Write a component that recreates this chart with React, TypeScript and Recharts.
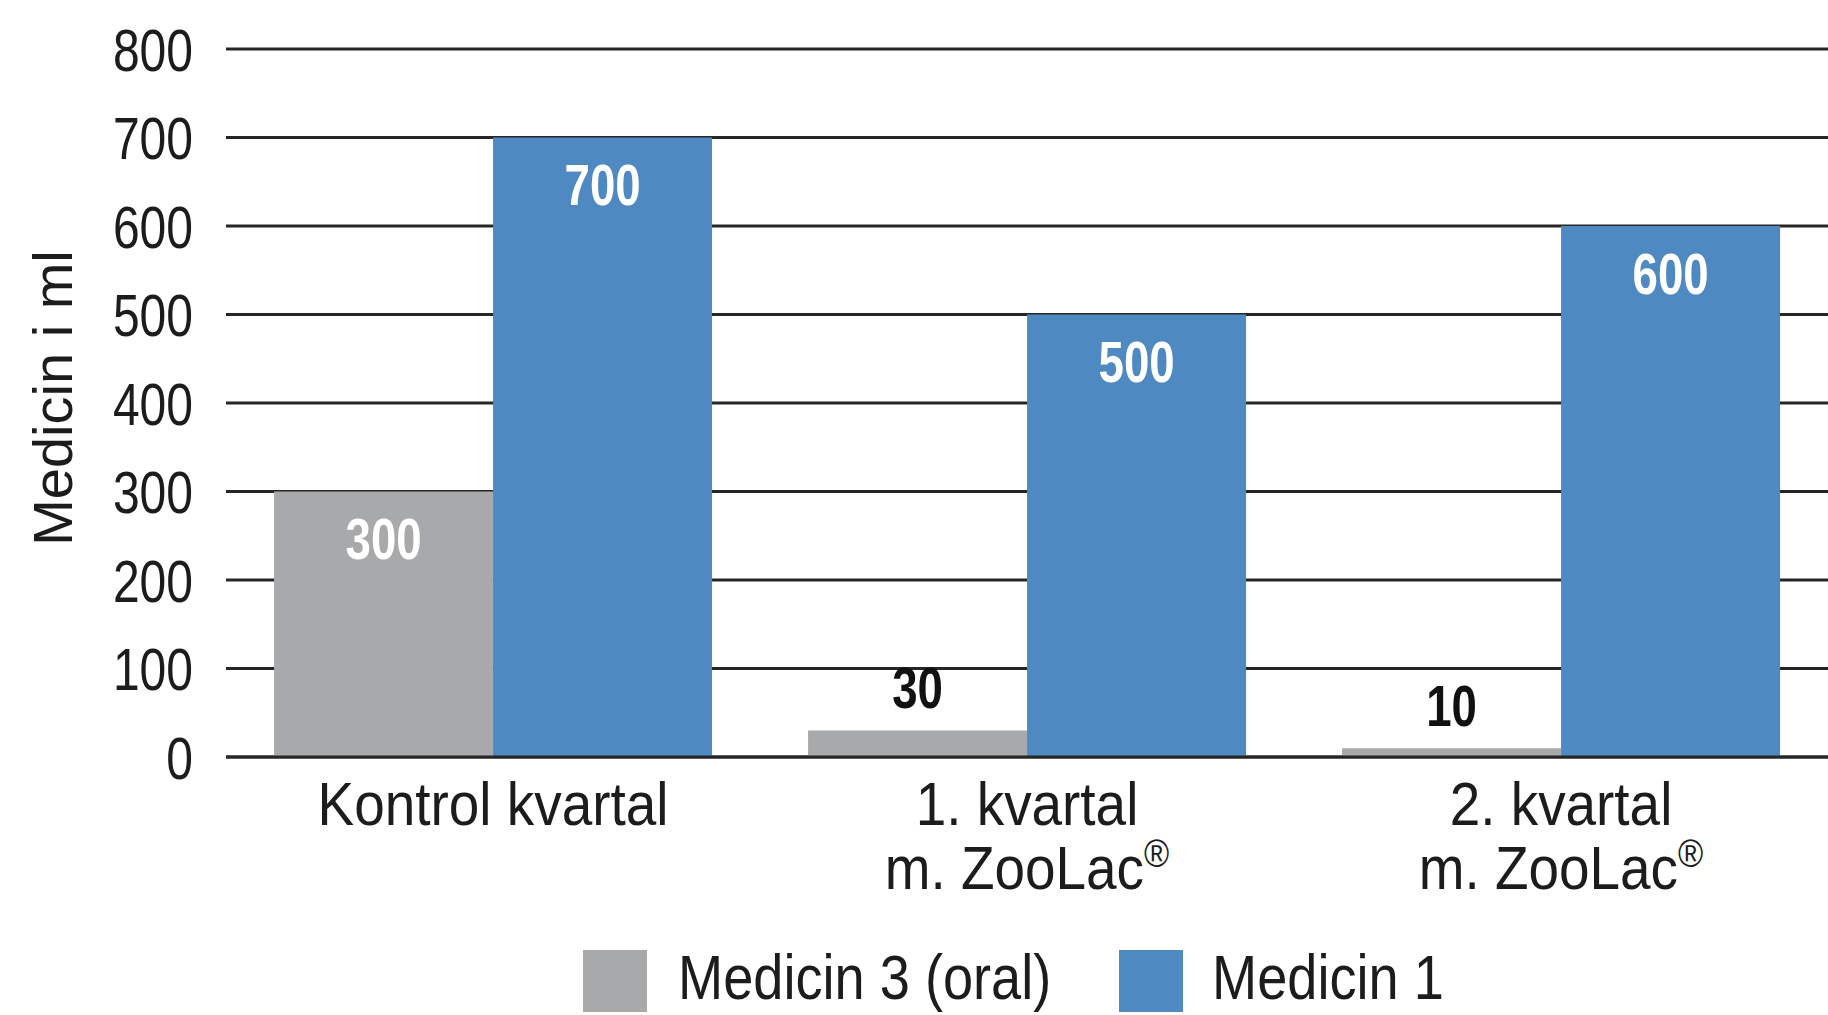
import React from 'react';
import { BarChart, Bar, XAxis, YAxis, CartesianGrid, Legend, LabelList } from 'recharts';

const categories = ['Kontrol kvartal', '1. kvartal\nm. ZooLac®', '2. kvartal\nm. ZooLac®'];
const medicin3 = [300, 30, 10];
const medicin1 = [700, 500, 600];
const yTicks = [0, 100, 200, 300, 400, 500, 600, 700, 800];
const seriesNames = ['Medicin 3 (oral)', 'Medicin 1'];
const yLabel = 'Medicin i ml';

const GRAY = '#a8a9ab';
const BLUE = '#4f89c2';
const TEXT = '#1c1c1c';
const FONT = '"Liberation Sans", Arial, sans-serif';

const data = categories.map((c, i) => ({ name: c, m3: medicin3[i], m1: medicin1[i] }));

const YTick = (props: any) => {
  const { x, y, payload } = props;
  return (
    <text transform={`translate(${x},${y}) scale(0.8,1)`} x={0} y={0} dy="0.36em"
      textAnchor="end" fill={TEXT} style={{ fontFamily: FONT, fontSize: 60 }}>
      {payload.value}
    </text>
  );
};

const XTick = (props: any) => {
  const { x, y, payload } = props;
  const lines: string[] = String(payload.value).split('\n');
  return (
    <g>
      {lines.map((ln, i) => {
        const parts = ln.split('®');
        return (
          <text key={i} transform={`translate(${x},${y + 68 + i * 64}) scale(0.9,1)`} x={0} y={0}
            textAnchor="middle" fill={TEXT} style={{ fontFamily: FONT, fontSize: 61 }}>
            {parts[0]}
            {parts.length > 1 ? (
              <tspan fontSize={38} dy={-22}>®</tspan>
            ) : null}
          </text>
        );
      })}
    </g>
  );
};

const renderValueLabel = (props: any) => {
  const { x, y, width, value } = props;
  const inside = value >= 100;
  const cx = x + width / 2;
  const cy = inside ? y + 48 : y - 42;
  return (
    <text transform={`translate(${cx},${cy}) scale(0.8,1)`} x={0} y={0} textAnchor="middle"
      dominantBaseline="central" fill={inside ? '#ffffff' : '#111111'}
      style={{ fontFamily: FONT, fontSize: 57, fontWeight: 700 }}>
      {value}
    </text>
  );
};

const LegendContent = () => (
  <svg width={900} height={75} style={{ display: 'block' }}>
    <rect x={0} y={10} width={64} height={62} fill={GRAY} />
    <text transform="translate(95,59) scale(0.86,1)" x={0} y={0} fill={TEXT}
      style={{ fontFamily: FONT, fontSize: 63 }}>{seriesNames[0]}</text>
    <rect x={536} y={10} width={64} height={62} fill={BLUE} />
    <text transform="translate(629,59) scale(0.86,1)" x={0} y={0} fill={TEXT}
      style={{ fontFamily: FONT, fontSize: 63 }}>{seriesNames[1]}</text>
  </svg>
);

export default function App() {
  return (
    <div style={{ position: 'absolute', left: 0, top: 0, width: 1828, height: 1015, background: '#ffffff' }}>
      <BarChart width={1828} height={1015} data={data}
        margin={{ top: 49, right: 0, bottom: 0, left: 0 }}
        barCategoryGap="9%" barGap={0}>
        <CartesianGrid horizontal vertical={false} stroke="#262626" strokeWidth={3} />
        <YAxis type="number" domain={[0, 800]} ticks={yTicks} width={226}
          axisLine={false} tickLine={false} tickSize={0} tickMargin={33}
          tick={<YTick />}
          label={{
            value: yLabel,
            content: () => (
              <text transform="translate(72,398) rotate(-90)" textAnchor="middle" fill={TEXT}
                style={{ fontFamily: FONT, fontSize: 56 }}>
                {yLabel}
              </text>
            ),
          }} />
        <Bar dataKey="m3" name={seriesNames[0]} fill={GRAY} isAnimationActive={false}>
          <LabelList dataKey="m3" content={renderValueLabel} />
        </Bar>
        <Bar dataKey="m1" name={seriesNames[1]} fill={BLUE} isAnimationActive={false}>
          <LabelList dataKey="m1" content={renderValueLabel} />
        </Bar>
        <XAxis dataKey="name" height={258} interval={0}
          axisLine={{ stroke: '#262626', strokeWidth: 3 }} tickLine={false}
          tickSize={0} tickMargin={0} tick={<XTick />} />
        <Legend layout="horizontal" verticalAlign="middle" align="center"
          wrapperStyle={{ top: 940, left: 583, width: 'auto', height: 'auto' }}
          content={<LegendContent />} />
      </BarChart>
    </div>
  );
}
